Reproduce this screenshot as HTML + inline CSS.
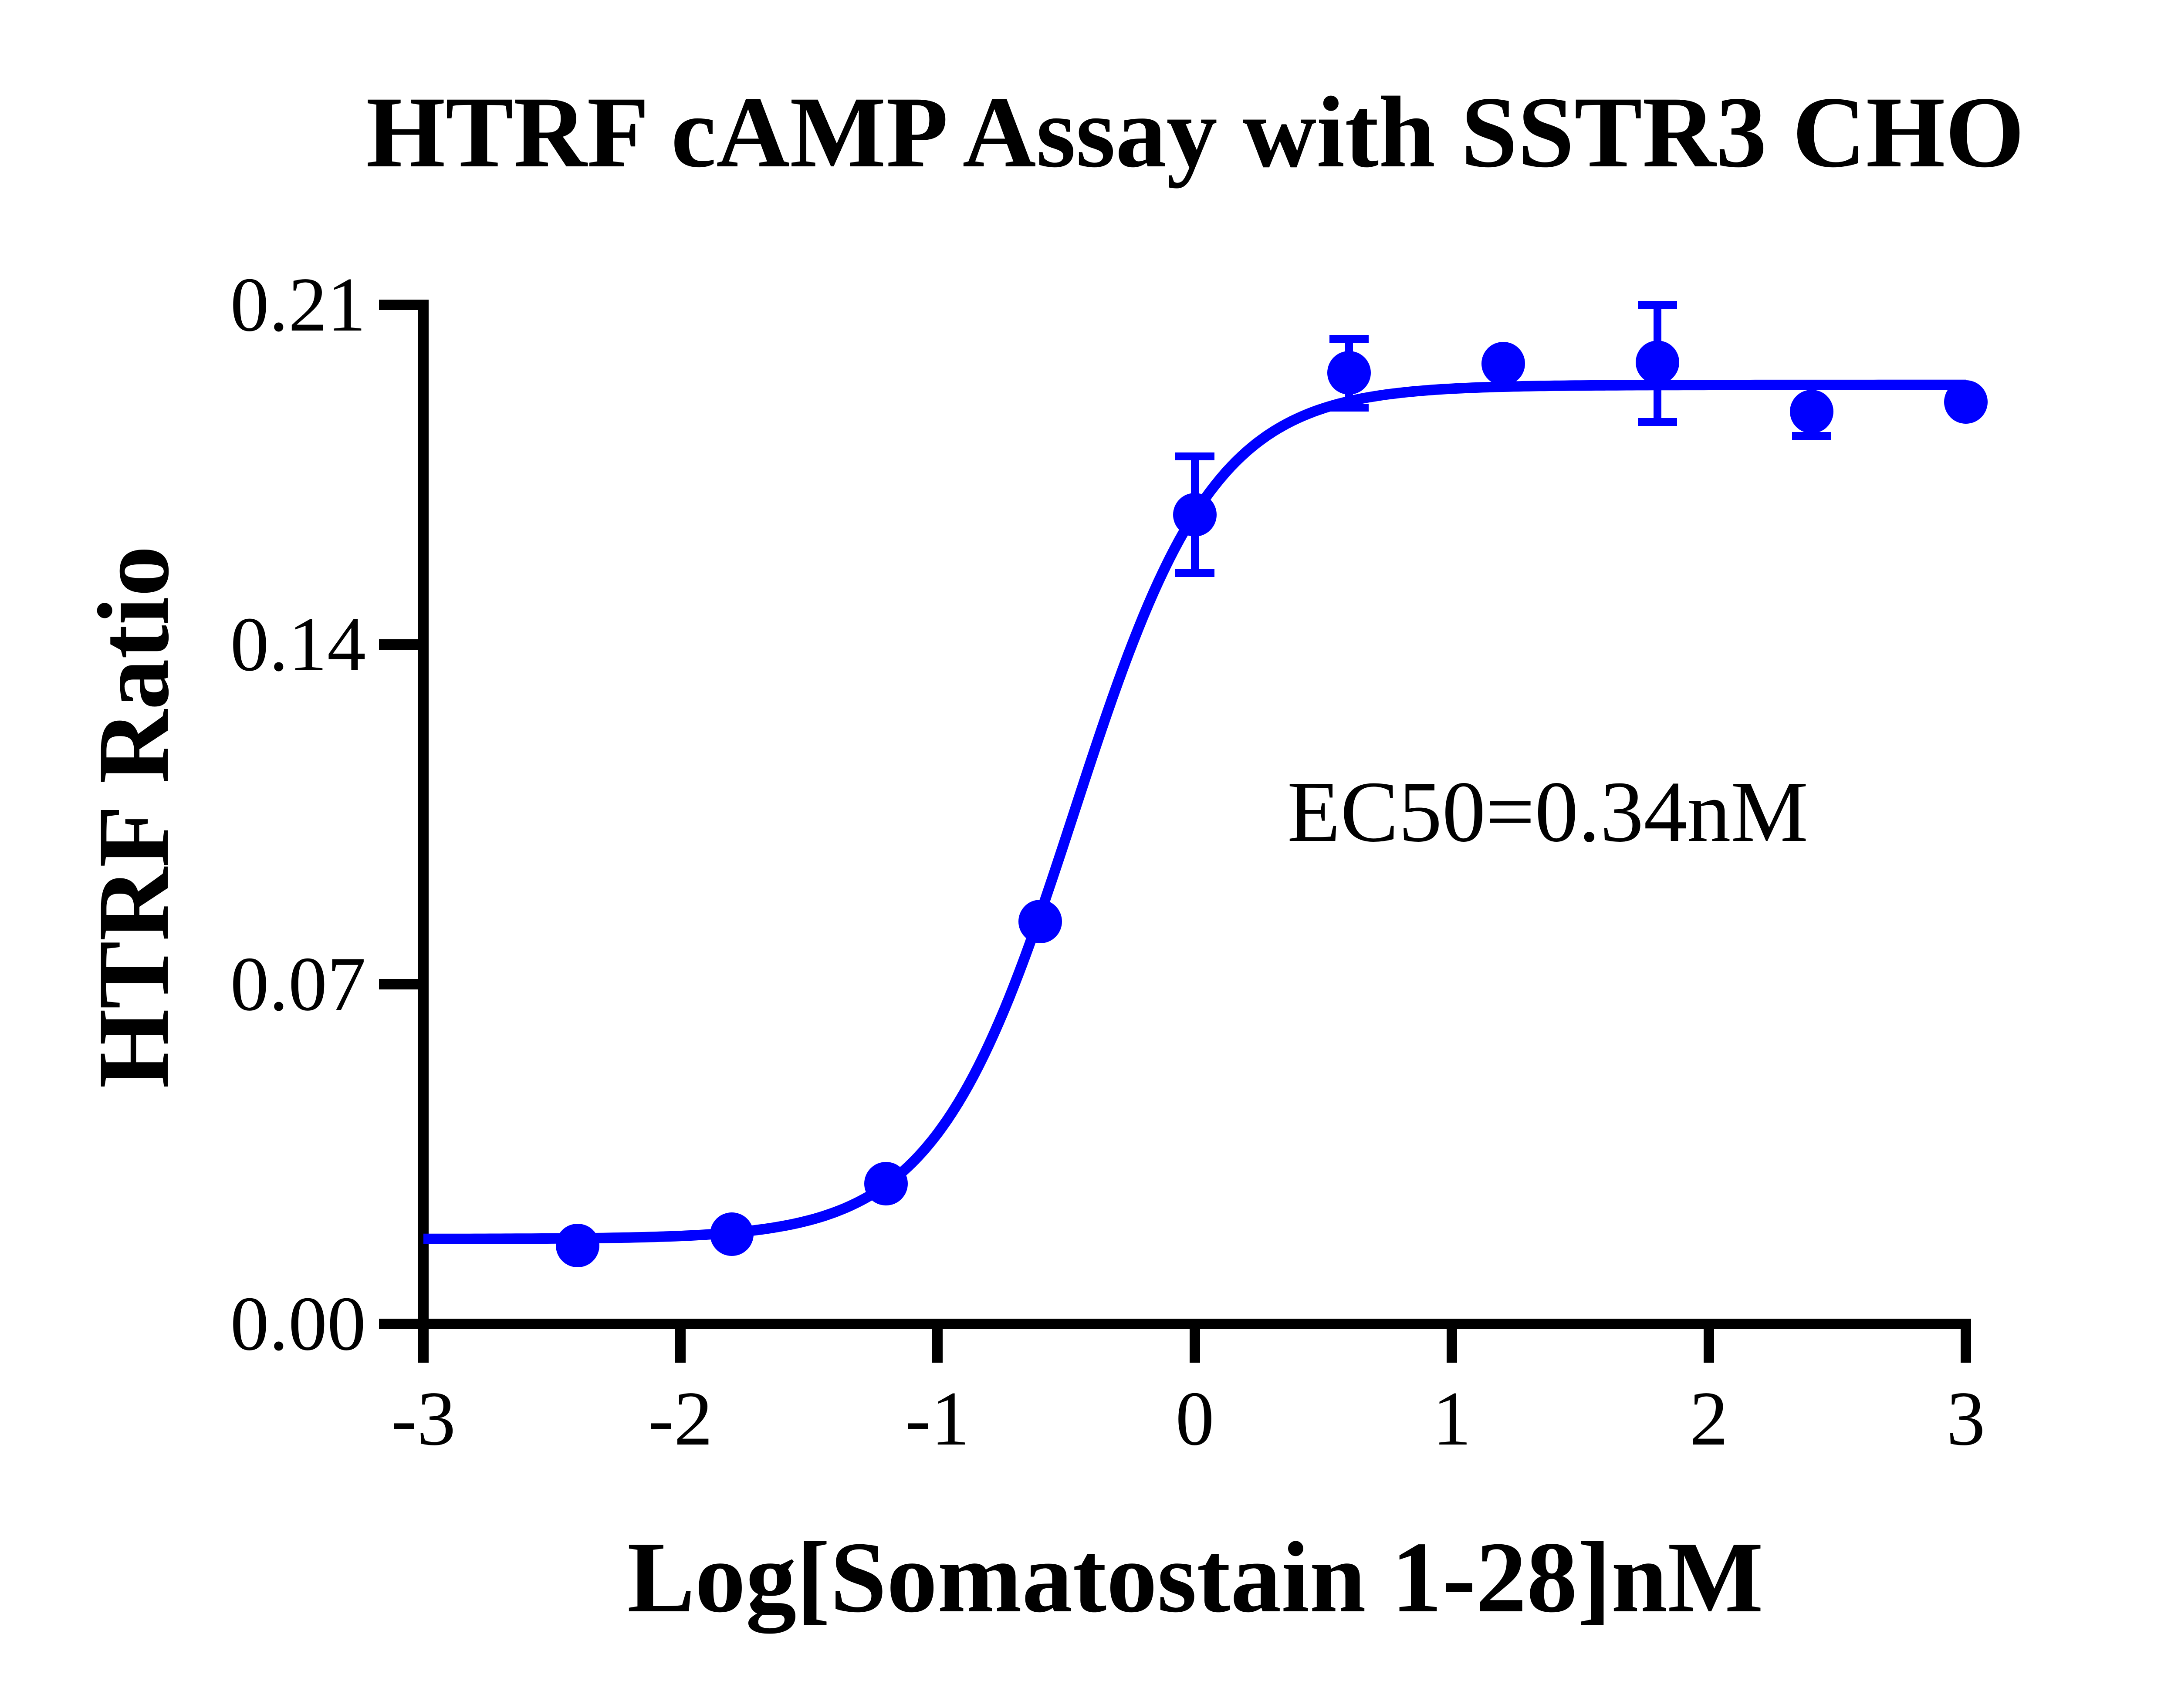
<!DOCTYPE html>
<html><head><meta charset="utf-8"><style>
html,body{margin:0;padding:0;background:#fff;}
svg{display:block;}
text{font-family:"Liberation Serif",serif;fill:#000;}
</style></head><body>
<svg id="s" width="5084" height="3922" viewBox="0 0 5084 3922" xmlns="http://www.w3.org/2000/svg">
<rect width="5084" height="3922" fill="#fff"/>
<text x="2744" y="382" font-size="234" font-weight="bold" text-anchor="middle">HTRF cAMP Assay with SSTR3 CHO</text>
<g stroke="#000" stroke-width="24" fill="none">
<line x1="972" y1="688" x2="972" y2="3052"/>
<line x1="960" y1="3040" x2="4525" y2="3040"/>
<line x1="870" y1="700" x2="972" y2="700"/>
<line x1="870" y1="1480" x2="972" y2="1480"/>
<line x1="870" y1="2260" x2="972" y2="2260"/>
<line x1="870" y1="3040" x2="972" y2="3040"/>
<line x1="972" y1="3040" x2="972" y2="3129"/>
<line x1="1562" y1="3040" x2="1562" y2="3129"/>
<line x1="2152" y1="3040" x2="2152" y2="3129"/>
<line x1="2743" y1="3040" x2="2743" y2="3129"/>
<line x1="3333" y1="3040" x2="3333" y2="3129"/>
<line x1="3923" y1="3040" x2="3923" y2="3129"/>
<line x1="4513" y1="3040" x2="4513" y2="3129"/>
</g>
<g font-size="178" text-anchor="end">
<text x="840" y="759">0.21</text>
<text x="840" y="1539">0.14</text>
<text x="840" y="2319">0.07</text>
<text x="840" y="3099">0.00</text>
</g>
<g font-size="178" text-anchor="middle">
<text x="972" y="3317">-3</text>
<text x="1562" y="3317">-2</text>
<text x="2152" y="3317">-1</text>
<text x="2743" y="3317">0</text>
<text x="3333" y="3317">1</text>
<text x="3923" y="3317">2</text>
<text x="4513" y="3317">3</text>
</g>
<text x="2744" y="3700" font-size="233" font-weight="bold" text-anchor="middle">Log[Somatostain 1-28]nM</text>
<text transform="translate(385,1876) rotate(-90)" font-size="234" font-weight="bold" text-anchor="middle">HTRF Ratio</text>
<text x="2955" y="1931" font-size="200">EC50=0.34nM</text>
<path id="curve" fill="none" stroke="#0000ff" stroke-width="24"/>
<g stroke="#0000ff" stroke-width="18" fill="none">
<line x1="2743" y1="1048" x2="2743" y2="1316"/><line x1="2698" y1="1048" x2="2788" y2="1048"/><line x1="2698" y1="1316" x2="2788" y2="1316"/>
<line x1="3097" y1="778" x2="3097" y2="936"/><line x1="3052" y1="778" x2="3142" y2="778"/><line x1="3052" y1="936" x2="3142" y2="936"/>
<line x1="3805" y1="700" x2="3805" y2="969"/><line x1="3760" y1="700" x2="3850" y2="700"/><line x1="3760" y1="969" x2="3850" y2="969"/>
<line x1="4159" y1="904" x2="4159" y2="1001"/><line x1="4114" y1="1001" x2="4204" y2="1001"/>
</g>
<g fill="#0000ff">
<circle cx="1326" cy="2860" r="50"/>
<circle cx="1680" cy="2834" r="50"/>
<circle cx="2034" cy="2718" r="50"/>
<circle cx="2388" cy="2116" r="50"/>
<circle cx="2743" cy="1182" r="50"/>
<circle cx="3097" cy="856" r="50"/>
<circle cx="3451" cy="835" r="50"/>
<circle cx="3805" cy="832" r="50"/>
<circle cx="4159" cy="945" r="50"/>
<circle cx="4513" cy="923" r="50"/>
</g>
</svg>
<script>
(function(){
var b=0.0175,t=0.1935,x50=-0.4685,h=1.6,d="";
for(var i=0;i<=300;i++){var x=-3+6*i/300;var v=b+(t-b)/(1+Math.pow(10,(x50-x)*h));
var px=972+(x+3)*590.2,py=3040-v*11143;d+=(i?"L":"M")+px.toFixed(1)+" "+py.toFixed(1);}
document.getElementById("curve").setAttribute("d",d);
})();
</script>
</body></html>
